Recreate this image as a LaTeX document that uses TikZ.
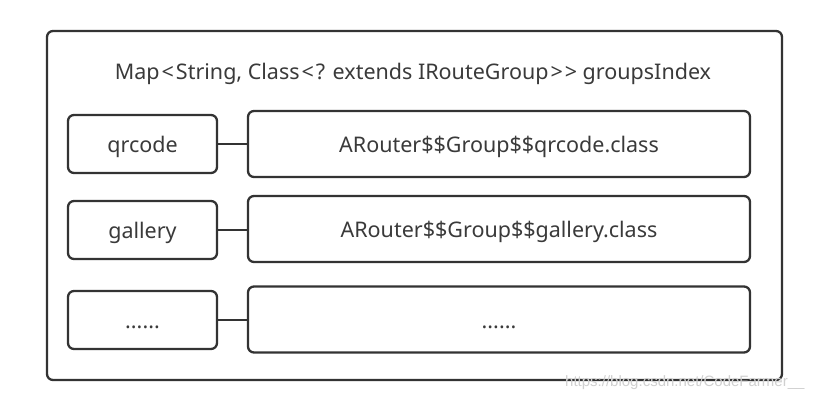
\documentclass[tikz,border=0pt]{standalone}
\usepackage{fontspec}
\setmainfont{Noto Sans}
\newfontfamily\wmfont{Liberation Sans}
\definecolor{boxline}{HTML}{333333}
\definecolor{txt}{HTML}{3A3A3A}
\definecolor{wm}{HTML}{D0D0D0}
\newcommand{\lt}{\hspace{2pt}<\hspace{2pt}}
\newcommand{\gtgt}{\hspace{2pt}{>}\hspace{2pt}{>}}
\begin{document}
\begin{tikzpicture}[x=1pt,y=-1pt,
  box/.style={draw=boxline,line width=2.3pt,rounded corners=6pt,inner sep=0pt,text=txt,font=\fontsize{21.5}{25}\selectfont,text height=22pt,text depth=5pt},
  link/.style={draw=boxline,line width=2.3pt}]
\useasboundingbox (0,0) rectangle (828,404);
\fill[white] (0,0) rectangle (828,404);
\node[draw=boxline,line width=2.3pt,rounded corners=6pt,minimum width=735pt,minimum height=349pt] (outer) at (414.5,205.5) {};
\node[text=txt,font=\fontsize{21.5}{25}\selectfont,inner sep=0pt] (title) at (413,74) {Map\lt String, Class\lt ? extends IRouteGroup\gtgt{} groupsIndex};
\node[box,minimum width=149pt,minimum height=58pt] (k1) at (142.5,144) {qrcode};
\node[box,minimum width=502pt,minimum height=66pt] (v1) at (499,144) {ARouter\$\$Group\$\$qrcode.class};
\node[box,minimum width=149pt,minimum height=58pt] (k2) at (142.5,230) {gallery};
\node[box,minimum width=502pt,minimum height=66pt] (v2) at (499,229) {ARouter\$\$Group\$\$gallery.class};
\node[box,minimum width=149pt,minimum height=58pt] (k3) at (142.5,320) {......};
\node[box,minimum width=502pt,minimum height=66pt] (v3) at (499,319.5) {......};
\draw[link] (k1.east) -- (k1.east -| v1.west);
\draw[link] (k2.east) -- (k2.east -| v2.west);
\draw[link] (k3.east) -- (k3.east -| v3.west);
\node[text=wm,font=\wmfont\fontsize{15}{17}\selectfont,inner sep=0pt,anchor=west] (wmark) at (565,383) {https://blog.csdn.net/CodeFarmer\_\_};
\end{tikzpicture}
\end{document}
